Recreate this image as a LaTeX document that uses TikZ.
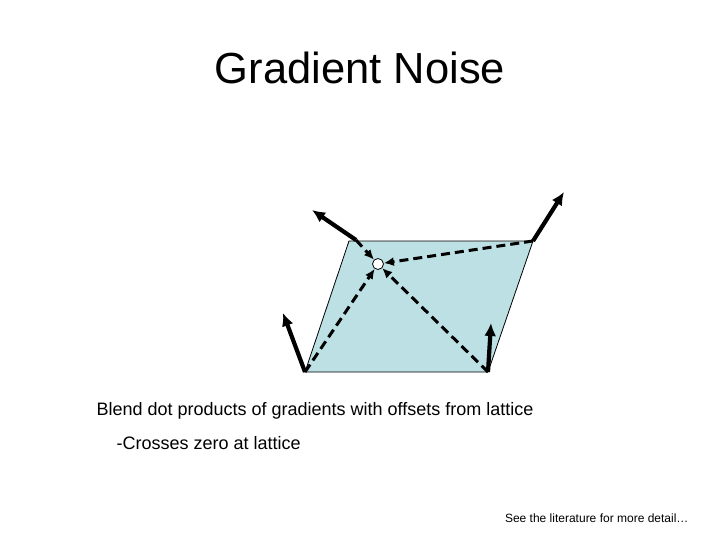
\documentclass[tikz,border=0pt]{standalone}
\usepackage{fontspec}
\setmainfont{Liberation Sans}
\usetikzlibrary{arrows.meta}
\begin{document}
\begin{tikzpicture}[x=1pt,y=-1pt,
  grad/.style={line width=4.2pt,-{Latex[length=13pt,width=12pt]}},
  off/.style={line width=3pt,dash pattern=on 9pt off 5pt,-{Latex[length=10pt,width=9pt]}}]
\useasboundingbox (0,0) rectangle (720,540);
\coordinate (tl) at (349,241);
\coordinate (tr) at (533,241);
\coordinate (br) at (488,372);
\coordinate (bl) at (305,372);
\fill[fill={rgb,255:red,188;green,224;blue,228}] (tl)--(tr)--(br)--(bl)--cycle;
\draw[line width=0.8pt] (tl)--(tr)--(br)--(bl)--cycle;
\node[circle,draw,line width=0.8pt,fill=white,minimum size=11pt,inner sep=0pt] (p) at (378,264) {};
\coordinate (gtl) at (312,210);
\coordinate (gtr) at (564,192);
\coordinate (gbl) at (283,313);
\coordinate (gbr) at (491,323);
\draw[grad] (356,240) -- (gtl);
\draw[grad] (tr) -- (gtr);
\draw[grad] (bl) -- (gbl);
\draw[grad] (br) -- (gbr);
\draw[off] (356,240) -- (p);
\draw[off] (tr) -- (p);
\draw[off] (bl) -- (p);
\draw[off] (br) -- (p);
\node[font=\fontsize{43.5}{50}\selectfont] (t) at (360,68) {Gradient Noise};
\node[anchor=west,font=\fontsize{18}{22}\selectfont] (l1) at (93,411) {Blend dot products of gradients with offsets from lattice};
\node[anchor=west,font=\fontsize{18}{22}\selectfont] (l2) at (113,443) {-Crosses zero at lattice};
\node[anchor=east,font=\fontsize{12}{14}\selectfont] (l3) at (692,518) {See the literature for more detail…};
\end{tikzpicture}
\end{document}
